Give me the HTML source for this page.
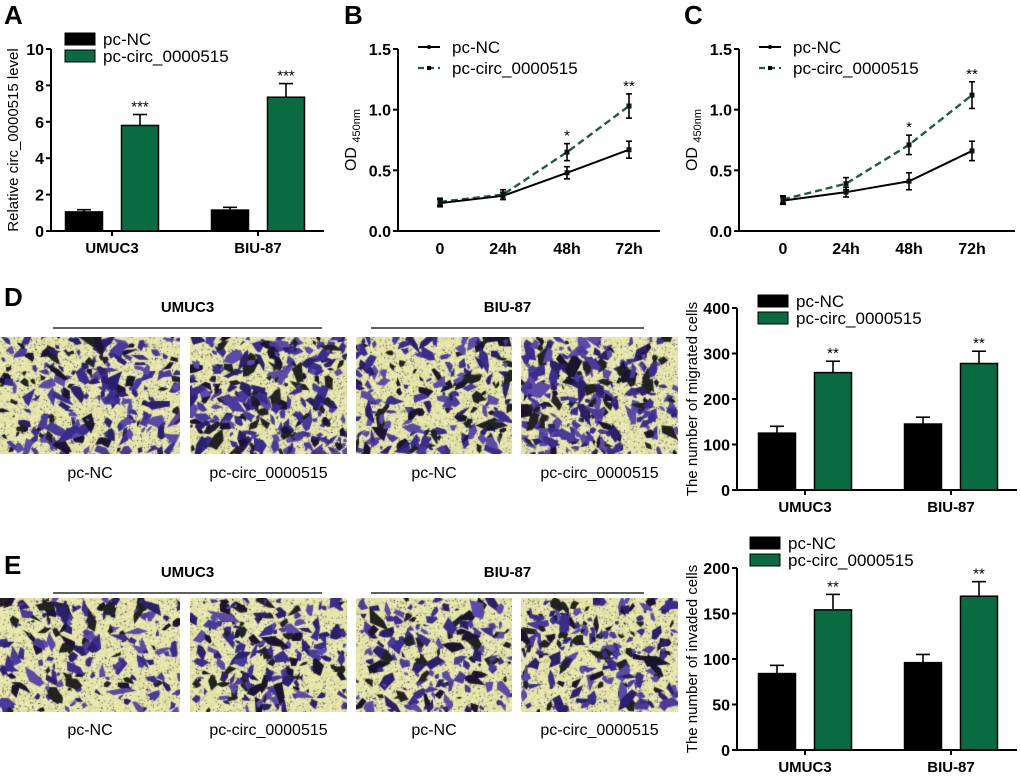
<!DOCTYPE html>
<html><head><meta charset="utf-8"><style>
html,body{margin:0;padding:0;background:#fff;}
#wrap{position:relative;width:1020px;height:777px;overflow:hidden;font-family:"Liberation Sans",Arial,sans-serif;}
canvas{position:absolute;}
svg{position:absolute;left:0;top:0;}
</style></head><body>
<div id="wrap">
<svg id="fig" width="1020" height="777"></svg>
</div>
<script>
// ---- data ----
const barGroups = ["UMUC3","BIU-87"];
const seriesNames = ["pc-NC","pc-circ_0000515"];
const aNC = [1.05, 1.15];
const aNCerr = [0.12, 0.15];
const aCirc = [5.8, 7.35];
const aCircErr = [0.6, 0.75];
const aTicks = [0,2,4,6,8,10];
const aStars = ["***","***"];

const timeLabels = ["0","24h","48h","72h"];
const bNC = [0.23, 0.29, 0.48, 0.67];
const bNCerr = [0.03, 0.03, 0.05, 0.07];
const bCirc = [0.24, 0.30, 0.65, 1.03];
const bCircErr = [0.03, 0.04, 0.07, 0.10];
const bStars = ["","","*","**"];
const cNC = [0.25, 0.32, 0.41, 0.66];
const cNCerr = [0.03, 0.04, 0.07, 0.08];
const cCirc = [0.26, 0.39, 0.71, 1.12];
const cCircErr = [0.03, 0.05, 0.08, 0.11];
const cStars = ["","","*","**"];
const odTicks = ["0.0","0.5","1.0","1.5"];

const dNC = [125, 145];
const dNCerr = [15, 15];
const dCirc = [258, 278];
const dCircErr = [25, 27];
const dTicks = [0,100,200,300,400];
const eNC = [84, 96];
const eNCerr = [9, 9];
const eCirc = [154, 169];
const eCircErr = [17, 16];
const eTicks = [0,50,100,150,200];
const groupStars = ["**","**"];

const GREEN = "#0a6b43", DGREEN = "#1f5e3c";
const svg = document.getElementById('fig');
const NS = "http://www.w3.org/2000/svg";
function mk(tag, attrs, parent, text){
  const e = document.createElementNS(NS, tag);
  for (const k in attrs) e.setAttribute(k, attrs[k]);
  if (text !== undefined) e.textContent = text;
  (parent||svg).appendChild(e);
  return e;
}
function txt(x,y,s,size,opts,name){
  const t = mk('text',{x:x,y:y,'font-size':size,'font-family':'"Liberation Sans",Arial,sans-serif','fill':'#000'},svg,s);
  if(opts) for(const k in opts) t.setAttribute(k,opts[k]);
  
  
  return t;
}
function line(x1,y1,x2,y2,w,col,dash,name){
  const l = mk('line',{x1:x1,y1:y1,x2:x2,y2:y2,stroke:col||'#000','stroke-width':w||1.5});
  if(dash) l.setAttribute('stroke-dasharray',dash);
  
  
  return l;
}
function errbar(x,yTop,yMid,cap,name){
  line(x,yMid,x,yTop,1.6,'#000',null,name);
  line(x-cap,yTop,x+cap,yTop,1.6,'#000',null,name);
}

[["A",4,22],["B",344,22],["C",684,22],["D",4,304],["E",4,572]].forEach(p=>{
  txt(p[1],p[2]+2,p[0],26,{'font-weight':'bold'},'panel-letter-'+p[0].toLowerCase());
});

function barChart(cfg){
  const {ax,y0,yTop,max,ticks,centers,nc,ncErr,circ,circErr,stars,xEnd,ylabel,ylabelX,pre,legX,legY} = cfg;
  const ys = v => y0 - v/max*(y0-yTop);
  line(ax,yTop,ax,y0+1,2,'#000',null,pre+'-y-axis');
  line(ax-1,y0,xEnd,y0,2,'#000',null,pre+'-x-axis');
  ticks.forEach(t=>{
    line(ax-5,ys(t),ax,ys(t),2,'#000',null,pre+'-y-tick');
    txt(ax-7,ys(t)+6,String(t),16,{'font-weight':'bold','text-anchor':'end'},pre+'-y-tick-label');
  });
  const bw=37, gap=19;
  barGroups.forEach((g,i)=>{
    const c=centers[i];
    line(c,y0,c,y0+5,2,'#000',null,pre+'-x-tick');
    txt(c,y0+22,g,15,{'font-weight':'bold','text-anchor':'middle'},pre+'-x-tick-label');
    const x1=c-gap/2-bw, x2=c+gap/2;
    errbar(x1+bw/2, ys(nc[i]+ncErr[i]), ys(nc[i]), 7, pre+'-errorbar');
    const r1=mk('rect',{x:x1,y:ys(nc[i]),width:bw,height:y0-ys(nc[i]),fill:'#000',stroke:'#000','stroke-width':1.5});
    
    
    errbar(x2+bw/2, ys(circ[i]+circErr[i]), ys(circ[i]), 7, pre+'-errorbar');
    const r2=mk('rect',{x:x2,y:ys(circ[i]),width:bw,height:y0-ys(circ[i]),fill:GREEN,stroke:'#000','stroke-width':1.5});
    
    
    txt(x2+bw/2, ys(circ[i]+circErr[i])-3, stars[i], 15,{'text-anchor':'middle'},pre+'-significance');
  });
  txt(0,0,ylabel,15,{'text-anchor':'middle','transform':`translate(${ylabelX},${(y0+yTop)/2}) rotate(-90)`},pre+'-y-axis-title');
  [[0,'#000'],[1,GREEN]].forEach(([k,col])=>{
    const r=mk('rect',{x:legX,y:legY+k*17,width:30,height:12,fill:col,stroke:'#000','stroke-width':1});
    
    
    txt(legX+38,legY+k*17+12,seriesNames[k],17,{},pre+'-legend-entry');
  });
}

barChart({pre:'a',ax:51,y0:231,yTop:49,max:10,ticks:aTicks,centers:[112,258],nc:aNC,ncErr:aNCerr,circ:aCirc,circErr:aCircErr,stars:aStars,xEnd:324,ylabel:'Relative circ_0000515 level',ylabelX:18,legX:65,legY:33});
barChart({pre:'d',ax:737,y0:490,yTop:308,max:400,ticks:dTicks,centers:[805,951],nc:dNC,ncErr:dNCerr,circ:dCirc,circErr:dCircErr,stars:groupStars,xEnd:1017,ylabel:'The number of migrated cells',ylabelX:697,legX:758,legY:295});
barChart({pre:'e',ax:737,y0:750,yTop:568,max:200,ticks:eTicks,centers:[805,951],nc:eNC,ncErr:eNCerr,circ:eCirc,circErr:eCircErr,stars:groupStars,xEnd:1017,ylabel:'The number of invaded cells',ylabelX:697,legX:750,legY:537});

function lineChart(cfg){
  const {ax,y0,yTop,max,xs,nc,ncErr,circ,circErr,stars,xEnd,pre,legX,ylabelX} = cfg;
  const ys=v=>y0-v/max*(y0-yTop);
  line(ax,yTop,ax,y0+1,2,'#000',null,pre+'-y-axis');
  line(ax-1,y0,xEnd,y0,2,'#000',null,pre+'-x-axis');
  odTicks.forEach(t=>{
    const y=ys(parseFloat(t));
    line(ax-5,y,ax,y,2,'#000',null,pre+'-y-tick');
    txt(ax-7,y+6,t,16,{'font-weight':'bold','text-anchor':'end'},pre+'-y-tick-label');
  });
  timeLabels.forEach((l,i)=>{
    txt(xs[i],y0+23,l,16,{'font-weight':'bold','text-anchor':'middle'},pre+'-x-tick-label');
  });
  const pC = circ.map((v,i)=>xs[i]+','+ys(v)).join(' ');
  const p2=mk('polyline',{points:pC,fill:'none',stroke:DGREEN,'stroke-width':2.4,'stroke-dasharray':'7,4'});
  
  
  const pN = nc.map((v,i)=>xs[i]+','+ys(v)).join(' ');
  const p1=mk('polyline',{points:pN,fill:'none',stroke:'#000','stroke-width':2});
  
  
  xs.forEach((x,i)=>{
    [[nc,ncErr],[circ,circErr]].forEach(([v,e],k)=>{
      line(x,ys(v[i]+e[i]),x,ys(v[i]-e[i]),1.6,'#000',null,pre+'-errorbar');
      line(x-3,ys(v[i]+e[i]),x+3,ys(v[i]+e[i]),1.6,'#000',null,pre+'-errorbar');
      line(x-3,ys(v[i]-e[i]),x+3,ys(v[i]-e[i]),1.6,'#000',null,pre+'-errorbar');
      const m=mk('rect',{x:x-2.5,y:ys(v[i])-2.5,width:5,height:5,fill:'#111'});
      
      
    });
    if(stars[i]) txt(x,ys(circ[i]+circErr[i])-3,stars[i],15,{'text-anchor':'middle'},pre+'-significance');
  });
  const t=txt(0,0,'OD ',16,{'text-anchor':'middle','transform':`translate(${ylabelX},${(y0+yTop)/2}) rotate(-90)`},pre+'-y-axis-title');
  const ts=mk('tspan',{'font-size':11,dy:4},t,'450nm');
  
  
  line(legX,47,legX+22,47,2,'#000',null,pre+'-legend-line');
  mk('circle',{cx:legX+11,cy:47,r:2,fill:'#000'});
  line(legX,68,legX+22,68,2.2,DGREEN,'6,4',pre+'-legend-line');
  mk('rect',{x:legX+9,y:66,width:4,height:4,fill:'#000'});
  txt(legX+34,53,seriesNames[0],17,{},pre+'-legend-entry');
  txt(legX+34,74,seriesNames[1],17,{},pre+'-legend-entry');
}
lineChart({pre:'b',ax:398,y0:231,yTop:49,max:1.5,xs:[440,503,567,629],nc:bNC,ncErr:bNCerr,circ:bCirc,circErr:bCircErr,stars:bStars,xEnd:660,legX:418,ylabelX:356});
lineChart({pre:'c',ax:739,y0:231,yTop:49,max:1.5,xs:[783,846,909,972],nc:cNC,ncErr:cNCerr,circ:cCirc,circErr:cCircErr,stars:cStars,xEnd:1015,legX:759,ylabelX:697});

function header(x1,x2,y,label,pre){
  txt((x1+x2)/2,y,label,15,{'font-weight':'bold','text-anchor':'middle'},pre+'-group-header');
  line(x1,y+16,x2,y+16,1.3,'#000',null,pre+'-group-line');
}
header(53,322,312,'UMUC3','d-umuc3');
header(371,644,312,'BIU-87','d-biu87');
header(53,322,577,'UMUC3','e-umuc3');
header(371,644,577,'BIU-87','e-biu87');

const imgXs=[[0,180],[190,347],[356,512],[521,678]];
const imgLabels=["pc-NC","pc-circ_0000515","pc-NC","pc-circ_0000515"];
const wrap=document.getElementById('wrap');
let seed=7;
function rnd(){seed=(seed*16807)%2147483647;return seed/2147483647;}
function micro(x,y,w,h,name,dens){
  const c=document.createElement('canvas');
  c.width=w;c.height=h;c.style.left=x+'px';c.style.top=y+'px';
  
  
  wrap.appendChild(c);
  const g=c.getContext('2d');
  g.fillStyle='#e6e6a8';g.fillRect(0,0,w,h);
  for(let i=0;i<w*h/4;i++){const q=rnd();g.fillStyle=q<0.4?'#f6f6d2':(q<0.8?'#c4c388':'#3a3560');g.fillRect(rnd()*w,rnd()*h,1,1);}
  const n=Math.floor(w*h/55*dens);
  for(let i=0;i<n;i++){
    const cx=rnd()*w, cy=rnd()*h, r=1.5+rnd()*4.5;
    const col=['#3b2c8e','#2c1f6e','#4a3a9c','#1a1430','#5b4aa8','#222'][Math.floor(rnd()*6)];
    g.fillStyle=col;g.beginPath();
    const k=4+Math.floor(rnd()*3);
    const stretch=1+rnd()*1.5, ang=rnd()*6.283;
    for(let j=0;j<k;j++){const a=j/k*6.283+rnd()*0.6, rr=r*(0.4+rnd()*1.0);
      let dx=Math.cos(a)*rr*stretch, dy=Math.sin(a)*rr;
      const px=cx+dx*Math.cos(ang)-dy*Math.sin(ang), py=cy+dx*Math.sin(ang)+dy*Math.cos(ang);
      j?g.lineTo(px,py):g.moveTo(px,py);}
    g.closePath();g.fill();
  }
}
imgXs.forEach((p,i)=>{
  micro(p[0],337,p[1]-p[0],117,'migration-image-'+(i+1),i%2?0.8:0.6);
  txt((p[0]+p[1])/2,478,imgLabels[i],16,{'text-anchor':'middle'},'migration-image-label');
  micro(p[0],598,p[1]-p[0],114,'invasion-image-'+(i+1),i%2?0.6:0.5);
  txt((p[0]+p[1])/2,735,imgLabels[i],16,{'text-anchor':'middle'},'invasion-image-label');
});
</script>
</body></html>
